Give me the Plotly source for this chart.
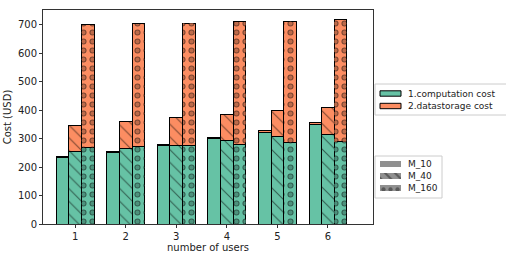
import plotly.graph_objects as go

users = [1, 2, 3, 4, 5, 6]
models = ["M_10", "M_40", "M_160"]
computation = {
    "M_10": [232, 252, 277, 300, 323, 350],
    "M_40": [254, 266, 277, 292, 306, 315],
    "M_160": [268, 271, 275, 281, 285, 289],
}
storage = {
    "M_10": [4, 4, 4, 4, 4, 5],
    "M_40": [93, 95, 96, 94, 92, 94],
    "M_160": [432, 433, 431, 429, 428, 429],
}
cost_names = ["1.computation cost", "2.datastorage cost"]
offsets = {"M_10": -0.25, "M_40": 0.0, "M_160": 0.25}
shapes = {"M_10": "", "M_40": "\\", "M_160": "."}
bar_width = 0.25
green = "#66c2a5"
orange = "#fc8d62"
cost_colors = [green, orange]

W, H = 506, 253
ML, MR, MT, MB = 43, 3, 10, 29
PW, PH = W - ML - MR, H - MT - MB
PLOT_RIGHT = 373
PSIZE = 9


def px2paper(x, y):
    return (x - ML) / PW, (H - MB - y) / PH


def pattern(m):
    return dict(shape=shapes[m], fgcolor="black", fillmode="overlay", size=PSIZE,
                solidity=0.12 if shapes[m] == "\\" else 0.36)


fig = go.Figure()
for m in models:
    xs = [u + offsets[m] for u in users]
    for vals, nm, col in [(computation[m], cost_names[0], green), (storage[m], cost_names[1], orange)]:
        fig.add_trace(go.Bar(x=xs, y=vals, width=bar_width,
                             marker=dict(color=col, line=dict(color="black", width=1), pattern=pattern(m)),
                             name=nm, showlegend=False))

# hollow the circle hatch: same bars on an overlaid axis, punching inner dots in the bar colour
m = "M_160"
xs = [u + offsets[m] for u in users]
for vals, nm, col in [(computation[m], cost_names[0], green), (storage[m], cost_names[1], orange)]:
    fig.add_trace(go.Bar(x=xs, y=vals, width=bar_width, xaxis="x3", yaxis="y3",
                         marker=dict(color="rgba(0,0,0,0)", line=dict(width=0),
                                     pattern=dict(shape=".", fgcolor=col, fillmode="overlay",
                                                  size=PSIZE, solidity=0.14)),
                         name=nm, showlegend=False, hoverinfo="skip"))

lfont = dict(family="DejaVu Sans", size=9, color="#222")

# legend 1: cost components
x0, y0 = px2paper(375, 84)
x1, y1 = px2paper(510, 115)
fig.add_shape(type="rect", xref="paper", yref="paper", x0=x0, y0=y0, x1=x1, y1=y1,
              line=dict(color="#cccccc", width=1), fillcolor="white", layer="below")
for i, (nm, col) in enumerate(zip(cost_names, cost_colors)):
    cy = 93.5 + i * 12.5
    sx0, sy0 = px2paper(380, cy - 2.7)
    sx1, sy1 = px2paper(401, cy + 2.7)
    fig.add_shape(type="rect", xref="paper", yref="paper", x0=sx0, y0=sy0, x1=sx1, y1=sy1,
                  line=dict(color="black", width=1), fillcolor=col, layer="above")
    tx, ty = px2paper(406, cy)
    fig.add_annotation(x=tx, y=ty, xref="paper", yref="paper", text=nm, showarrow=False,
                       xanchor="left", yanchor="middle", font=lfont)

# legend 2: models (pattern swatches drawn as small bars on an auxiliary axis)
x0, y0 = px2paper(375, 156)
x1, y1 = px2paper(442, 198)
fig.add_shape(type="rect", xref="paper", yref="paper", x0=x0, y0=y0, x1=x1, y1=y1,
              line=dict(color="#cccccc", width=1), fillcolor="white", layer="below")
fig.add_trace(go.Bar(x=[1] * len(models), y=list(range(len(models))), orientation="h",
                     width=0.45, xaxis="x2", yaxis="y2", showlegend=False, hoverinfo="skip",
                     marker=dict(color="#909090", line=dict(width=0),
                                 pattern=dict(shape=[shapes[m] for m in models], fgcolor="#222",
                                              fillmode="overlay", size=7, solidity=0.3))))
for i, m in enumerate(models):
    tx, ty = px2paper(406, 164 + i * 12)
    fig.add_annotation(x=tx, y=ty, xref="paper", yref="paper", text=m, showarrow=False,
                       xanchor="left", yanchor="middle", font=lfont)

sw_x0, _ = px2paper(380, 0)
sw_x1, _ = px2paper(401, 0)
_, sw_ytop = px2paper(0, 158)
_, sw_ybot = px2paper(0, 194)

font = dict(family="DejaVu Sans", size=10, color="#222")
main_dom = [0, (PLOT_RIGHT - ML) / PW]
fig.update_layout(
    width=W, height=H,
    margin=dict(l=ML, r=MR, t=MT, b=MB, autoexpand=False),
    barmode="stack",
    plot_bgcolor="white", paper_bgcolor="white",
    font=font,
    showlegend=False,
    xaxis=dict(domain=main_dom, range=[0.365, 6.89], tickvals=users,
               ticktext=[str(u) for u in users],
               showline=True, linecolor="#333", linewidth=1, mirror=True,
               ticks="outside", ticklen=3, tickcolor="#333", showgrid=False,
               zeroline=False,
               title=dict(text="number of users", font=font, standoff=4)),
    yaxis=dict(range=[0, 752], tickvals=[0, 100, 200, 300, 400, 500, 600, 700],
               showline=True, linecolor="#333", linewidth=1, mirror=True,
               ticks="outside", ticklen=3, tickcolor="#333", showgrid=False,
               zeroline=False,
               title=dict(text="Cost (USD)", font=font, standoff=4)),
    xaxis3=dict(domain=main_dom, overlaying="x", anchor="y3", range=[0.365, 6.89],
                visible=False, fixedrange=True),
    yaxis3=dict(overlaying="y", anchor="x3", range=[0, 752], visible=False, fixedrange=True),
    xaxis2=dict(domain=[sw_x0, sw_x1], anchor="y2", range=[0, 1], visible=False, fixedrange=True),
    yaxis2=dict(domain=[sw_ybot, sw_ytop], anchor="x2", range=[2.5, -0.5], visible=False, fixedrange=True),
)

fig.write_html("out.html")
